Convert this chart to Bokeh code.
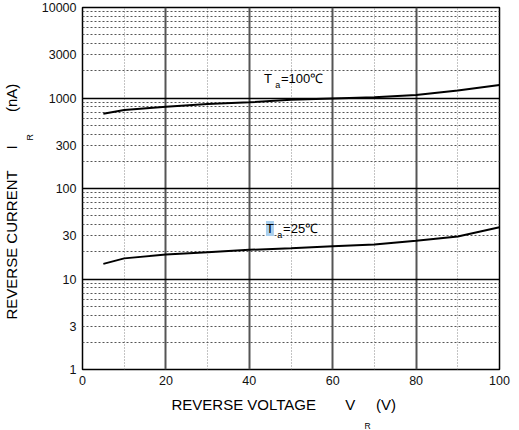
from bokeh.plotting import figure
from bokeh.models import FixedTicker, Title
from bokeh.core.properties import value
from bokeh.embed import file_html
from bokeh.resources import INLINE

# datos
vr = [5, 10, 20, 30, 40, 50, 60, 70, 80, 90, 100]
ir_100 = [670, 738, 800, 860, 895, 955, 990, 1020, 1080, 1210, 1390]
ir_25 = [14.7, 16.9, 18.6, 19.8, 21.0, 21.9, 23.0, 24.0, 26.4, 29.5, 37.4]

x_ticks = [0, 20, 40, 60, 80, 100]
x_minor = [10, 30, 50, 70, 90]
y_ticks = [1, 3, 10, 30, 100, 300, 1000, 3000, 10000]
y_labels = ["1", "3", "10", "30", "100", "300", "1000", "3000", "10000"]
decades = [1, 10, 100, 1000, 10000]
y_minor = [m * d for d in [1, 10, 100, 1000] for m in range(2, 10)]

FONT = "Liberation Sans"
SP = "\u00a0"

p = figure(width=519, height=430, y_axis_type="log",
           x_range=(0, 100), y_range=(1, 10000),
           output_backend="svg", toolbar_location=None,
           min_border_left=81, min_border_right=20,
           min_border_top=7, min_border_bottom=60)
p.background_fill_color = "white"
p.border_fill_color = "white"
p.outline_line_color = "black"
p.outline_line_width = 1.5

# ejes
p.xaxis.ticker = FixedTicker(ticks=x_ticks)
p.yaxis.ticker = FixedTicker(ticks=y_ticks)
p.yaxis.major_label_overrides = {t: s for t, s in zip(y_ticks, y_labels)}
for ax in (p.xaxis[0], p.yaxis[0]):
    ax.axis_line_color = None
    ax.major_tick_line_color = None
    ax.minor_tick_line_color = None
    ax.major_tick_out = 0
    ax.minor_tick_out = 0
    ax.major_label_text_font = FONT
    ax.major_label_text_font_size = "12.5px"
    ax.major_label_text_color = "#111"
p.xaxis.major_label_standoff = 6
p.yaxis.major_label_standoff = 6

# rejilla
p.xgrid.ticker = FixedTicker(ticks=x_ticks, minor_ticks=x_minor)
p.xgrid.grid_line_color = "#555"
p.xgrid.grid_line_width = 2
p.xgrid.minor_grid_line_color = "#888"
p.xgrid.minor_grid_line_dash = "1 2"
p.xgrid.minor_grid_line_width = 1
p.ygrid.ticker = FixedTicker(ticks=decades, minor_ticks=y_minor)
p.ygrid.grid_line_color = "black"
p.ygrid.grid_line_width = 1.3
p.ygrid.minor_grid_line_color = "#555"
p.ygrid.minor_grid_line_dash = "2 2"
p.ygrid.minor_grid_line_width = 1

# curvas
p.line(vr, ir_100, color="black", line_width=2)
p.line(vr, ir_25, color="black", line_width=2)

# etiquetas de temperatura
p.text(x=[43.5], y=[1630], text=["T"], text_font=value(FONT), text_font_size="13px",
       text_baseline="middle", text_color="black")
p.text(x=[46.2], y=[1390], text=["a"], text_font=value(FONT), text_font_size="9px",
       text_baseline="middle", text_color="black")
p.text(x=[47.6], y=[1630], text=["=100\u2103"], text_font=value(FONT), text_font_size="13px",
       text_baseline="middle", text_color="black")

p.text(x=[44.0], y=[36.2], text=["T"], text_font=value(FONT), text_font_size="13px",
       text_baseline="middle", text_color="black", background_fill_color="#a9cfee")
p.text(x=[46.7], y=[31.0], text=["a"], text_font=value(FONT), text_font_size="9px",
       text_baseline="middle", text_color="black")
p.text(x=[48.1], y=[36.2], text=["=25\u2103"], text_font=value(FONT), text_font_size="13px",
       text_baseline="middle", text_color="black")

# titulos de ejes como Title (no se recortan fuera del area de trazado)
def tit(t, side, offset, size="15px", standoff=0):
    p.add_layout(Title(text=t, align="left", offset=offset, standoff=standoff,
                       text_font=FONT, text_font_size=size, text_font_style="normal",
                       text_color="black", text_line_height=1.0), side)

tit("REVERSE VOLTAGE" + SP * 7 + "V" + SP * 5 + "(V)", "below", 89, standoff=12)
tit("R", "below", 282, size="8.5px")

tit("R", "left", 229, size="9px", standoff=7)
tit("REVERSE CURRENT" + SP * 5 + "I" + SP * 8 + "(nA)", "left", 50)

open("out.html", "w").write(file_html(p, INLINE))
